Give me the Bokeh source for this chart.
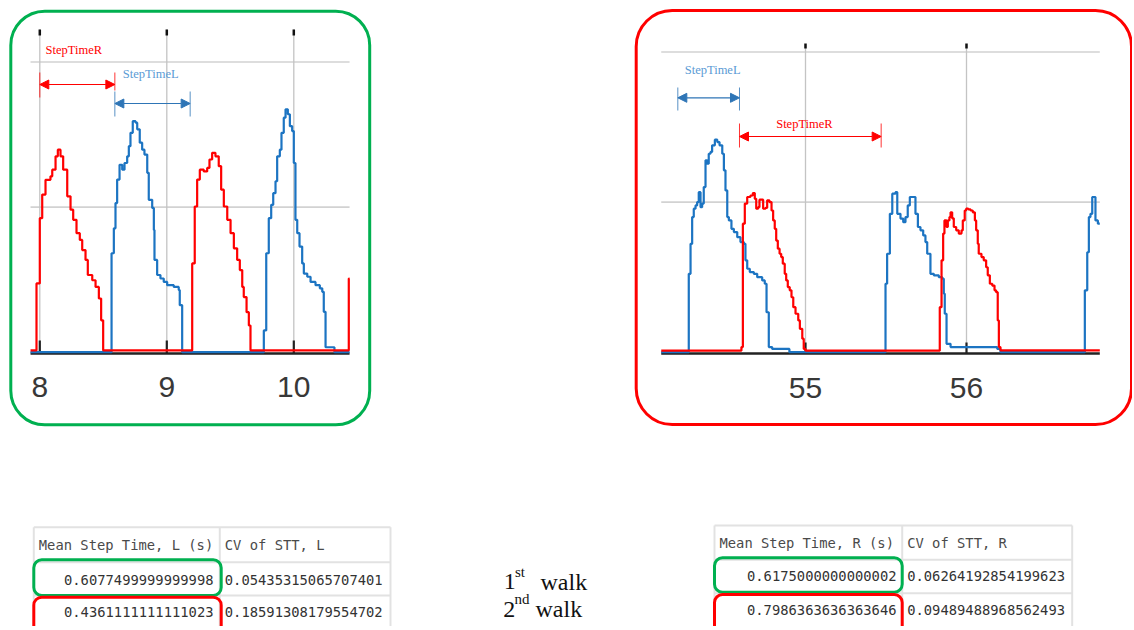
from bokeh.plotting import figure
from bokeh.models import Range1d, BoxAnnotation, Arrow, NormalHead
from bokeh.core.properties import value
from bokeh.embed import file_html
from bokeh.resources import INLINE

# ---------------- data ----------------
# Chart 1 (1st walk): time (s) and pressure-like signal (grid lines at 500 / 1000)
c1_ticks = [8, 9, 10]
c1_tick_labels = ["8", "9", "10"]
c1_t_range = [7.927, 10.439]
c1_red_t = [7.927, 7.974, 8.000, 8.019, 8.045, 8.084, 8.098, 8.124, 8.142, 8.163, 8.184, 8.216, 8.242, 8.263,
            8.289, 8.315, 8.334, 8.360, 8.378, 8.413, 8.439, 8.465, 8.483, 8.499, 9.200, 9.220, 9.239, 9.260,
            9.291, 9.318, 9.336, 9.357, 9.383, 9.409, 9.428, 9.449, 9.476, 9.502, 9.528, 9.554, 9.575, 9.594,
            9.606, 9.628, 9.646, 9.659, 10.433, 10.439]
c1_red_v = [6, 237, 462, 543, 594, 606, 629, 675, 698, 675, 629, 537, 491, 456,
            410, 387, 352, 318, 266, 248, 225, 185, 110, 6, 306, 502, 595, 629,
            623, 635, 664, 687, 675, 641, 560, 502, 456, 410, 358, 318, 283, 225,
            190, 138, 92, 6, 254, 254]
c1_blue_t = [7.927, 8.565, 8.583, 8.596, 8.609, 8.628, 8.649, 8.667, 8.688, 8.701, 8.714, 8.732, 8.754, 8.767,
             8.787, 8.806, 8.824, 8.846, 8.858, 8.885, 8.898, 8.903, 8.924, 8.950, 8.976, 9.003, 9.055, 9.094,
             9.102, 9.121, 9.764, 9.783, 9.803, 9.822, 9.838, 9.856, 9.869, 9.890, 9.903, 9.921, 9.935, 9.953,
             9.969, 9.987, 10.000, 10.013, 10.027, 10.045, 10.066, 10.079, 10.106, 10.132, 10.171, 10.205,
             10.224, 10.236, 10.250, 10.320, 10.439]
c1_blue_v = [0, 341, 427, 514, 595, 646, 629, 652, 675, 710, 756, 796, 791, 768,
             722, 698, 681, 618, 525, 497, 421, 318, 266, 254, 242, 231, 225, 214,
             162, 0, 75, 341, 462, 508, 548, 589, 675, 698, 756, 808, 837, 820,
             779, 762, 652, 456, 410, 364, 306, 271, 260, 242, 231, 220,
             208, 139, 17, 0, 0]
c1_stepR = [8.000, 8.591]
c1_stepL = [8.591, 9.184]

# Chart 2 (2nd walk)
c2_ticks = [55, 56]
c2_tick_labels = ["55", "56"]
c2_t_range = [54.104, 56.828]
c2_blue_t = [54.104, 54.275, 54.286, 54.296, 54.306, 54.317, 54.327, 54.337, 54.348, 54.358, 54.368, 54.379,
             54.389, 54.399, 54.410, 54.420, 54.437, 54.452, 54.466, 54.483, 54.493, 54.503, 54.514, 54.524,
             54.540, 54.555, 54.576, 54.596, 54.617, 54.627, 54.638, 54.654, 54.679, 54.700, 54.731, 54.747,
             54.758, 54.772, 54.793, 54.900, 55.497, 55.507, 55.524, 55.539, 55.559, 55.570, 55.590, 55.607,
             55.621, 55.635, 55.648, 55.669, 55.683, 55.698, 55.714, 55.731, 55.745, 55.756, 55.776, 55.797,
             55.828, 55.849, 55.859, 55.865, 55.876, 55.901, 56.191, 56.211, 56.735, 56.750, 56.760, 56.770,
             56.781, 56.795, 56.801, 56.816, 56.828]
c2_blue_v = [0, 261, 361, 450, 478, 489, 500, 533, 483, 495, 550, 639,
             628, 661, 667, 689, 708, 700, 689, 661, 606, 539, 450, 439,
             411, 400, 383, 367, 361, 306, 278, 267, 261, 250, 239, 228,
             133, 17, 11, 0, 228, 328, 461, 528, 533, 461, 445, 433,
             450, 489, 517, 517, 461, 417, 406, 389, 367, 328, 261, 256,
             250, 245, 195, 128, 28, 17, 11, 0, 206, 333, 450, 461,
             517, 517, 439, 428, 428]
c2_red_t = [54.104, 54.602, 54.611, 54.623, 54.638, 54.658, 54.673, 54.685, 54.694, 54.706, 54.714, 54.737,
            54.752, 54.762, 54.776, 54.789, 54.799, 54.809, 54.818, 54.828, 54.839, 54.849, 54.859, 54.871,
            54.880, 54.890, 54.902, 54.913, 54.924, 54.938, 54.955, 54.965, 54.980, 54.989, 55.000, 55.834,
            55.845, 55.855, 55.863, 55.876, 55.884, 55.894, 55.901, 55.911, 55.921, 55.936, 55.952, 55.969,
            55.977, 55.989, 55.998, 56.011, 56.025, 56.039, 56.052, 56.060, 56.070, 56.076, 56.093, 56.107,
            56.122, 56.132, 56.145, 56.160, 56.174, 56.184, 56.194, 56.201, 56.211, 56.828]
c2_red_v = [5, 17, 428, 495, 517, 522, 530, 511, 478, 483, 508, 478,
            481, 506, 500, 472, 439, 411, 372, 345, 328, 317, 295, 261,
            239, 217, 206, 183, 150, 128, 106, 78, 45, 11, 5, 150,
            306, 395, 439, 417, 439, 450, 466, 446, 417, 406, 395, 406,
            439, 472, 478, 476, 472, 466, 439, 406, 361, 328, 317, 306,
            283, 256, 228, 222, 206, 200, 106, 17, 6, 6]
c2_stepL = [54.207, 54.590]
c2_stepR = [54.590, 55.470]

grid_values = [500, 1000]

# Tables
tabL_header = ["Mean Step Time, L (s)", "CV of STT, L"]
tabL_mean = ["0.6077499999999998", "0.4361111111111023"]
tabL_cv = ["0.05435315065707401", "0.18591308179554702"]
tabR_header = ["Mean Step Time, R (s)", "CV of STT, R"]
tabR_mean = ["0.6175000000000002", "0.7986363636363646"]
tabR_cv = ["0.06264192854199623", "0.09489488968562493"]
walk_num = ["1", "2"]
walk_sup = ["st", "nd"]
walk_word = ["walk", "walk"]

# ---------------- layout ----------------
W, H = 1132, 626
OX, OY = 0, 0  # main coordinates are screenshot pixels

RED = "#ff0000"
BLUE = "#1c74c2"
ARROW_BLUE = "#2e75b6"
TEXT_BLUE = "#5b9bd5"
GREEN = "#00b050"
GRID = "#d2d2d2"

p = figure(width=W, height=H, x_range=Range1d(OX, OX + W), y_range=Range1d(OY + H, OY),
           output_backend="svg", toolbar_location=None, min_border=0,
           x_axis_location=None, y_axis_location=None, title=None)
p.grid.visible = False
p.outline_line_color = None
p.background_fill_color = "white"
p.border_fill_color = "white"

xr, yr = {}, {}


def chart_ranges(name, t_a, px_a, t_b, px_b, py0, py1000):
    kx = (t_b - t_a) / (px_b - px_a)
    xr[name + "x"] = Range1d(t_a + (OX - px_a) * kx, t_a + (OX + W - px_a) * kx)
    ky = 1000.0 / (py1000 - py0)
    yr[name + "y"] = Range1d((OY + H - py0) * ky, (OY - py0) * ky)


chart_ranges("c1", 8, 39.3, 10, 293.3, 351.7, 61.5)
chart_ranges("c2", 55, 805.0, 56, 966.0, 351.7, 51.5)
p.extra_x_ranges = xr
p.extra_y_ranges = yr


def draw_chart(name, trange, ticks, labels, red_t, red_v, blue_t, blue_v, top_px, top_tick, bot_tick, label_y):
    xn, yn = name + "x", name + "y"
    n = len(ticks)
    p.segment(x0=[trange[0]] * 2, x1=[trange[1]] * 2, y0=grid_values, y1=grid_values,
              x_range_name=xn, y_range_name=yn, line_color=GRID, line_width=1.6)
    p.segment(x0=ticks, x1=ticks, y0=[top_px] * n, y1=[352] * n, x_range_name=xn,
              line_color="#c4c4c4", line_width=1.3)
    p.segment(x0=ticks, x1=ticks, y0=[top_tick[0]] * n, y1=[top_tick[1]] * n, x_range_name=xn,
              line_color="#111111", line_width=2.5)
    p.segment(x0=[trange[0]], x1=[trange[1]], y0=[353], y1=[353], x_range_name=xn,
              line_color="#222222", line_width=2.5)
    p.segment(x0=ticks, x1=ticks, y0=[bot_tick] * n, y1=[353] * n, x_range_name=xn,
              line_color="#222222", line_width=2.2)
    p.step(blue_t, blue_v, mode="after", x_range_name=xn, y_range_name=yn,
           line_color=BLUE, line_width=2.2)
    p.step(red_t, red_v, mode="after", x_range_name=xn, y_range_name=yn,
           line_color=RED, line_width=2.2)
    p.text(x=ticks, y=[label_y] * n, text=labels, x_range_name=xn, text_align="center",
           text_baseline="middle", text_font=value("Liberation Sans"), text_font_size="30px",
           text_color="#383838")


draw_chart("c1", c1_t_range, c1_ticks, c1_tick_labels, c1_red_t, c1_red_v, c1_blue_t, c1_blue_v,
           29, (29, 35), 340, 386)
draw_chart("c2", c2_t_range, c2_ticks, c2_tick_labels, c2_red_t, c2_red_v, c2_blue_t, c2_blue_v,
           45, (43, 48), 342, 387)


def step_arrow(xn, span, y, bar0, bar1, color, text, text_x, text_y, text_color):
    p.add_layout(Arrow(x_start=span[0], y_start=y, x_end=span[1], y_end=y, x_range_name=xn,
                       line_color=color, line_width=1.2,
                       start=NormalHead(size=9, fill_color=color, line_color=color),
                       end=NormalHead(size=9, fill_color=color, line_color=color)))
    p.segment(x0=[span[0], span[1]], x1=[span[0], span[1]], y0=[bar0[0], bar1[0]], y1=[bar0[1], bar1[1]],
              x_range_name=xn, line_color=color, line_width=1, line_alpha=0.8)
    p.text(x=[text_x], y=[text_y], text=[text], x_range_name=xn, text_align="left",
           text_baseline="middle", text_font=value("Liberation Serif"), text_font_size="12.5px",
           text_color=text_color)


step_arrow("c1x", c1_stepR, 84, (72, 97), (72, 90), RED, "StepTimeR", 8.045, 49, RED)
step_arrow("c1x", c1_stepL, 103, (91, 116), (91, 116), ARROW_BLUE, "StepTimeL", 8.654, 73, TEXT_BLUE)
step_arrow("c2x", c2_stepL, 97.3, (87, 110), (87, 110), ARROW_BLUE, "StepTimeL", 54.250, 69, TEXT_BLUE)
step_arrow("c2x", c2_stepR, 136, (123, 147), (123, 147), RED, "StepTimeR", 54.818, 123.5, RED)

# rounded frames around the two charts
p.add_layout(BoxAnnotation(left=10.3, right=369.2, top=10.7, bottom=424.3, fill_color=None, fill_alpha=0,
                           line_color=GREEN, line_alpha=1.0, line_width=3, border_radius=34))
p.add_layout(BoxAnnotation(left=635.7, right=1131.0, top=10.0, bottom=424.0, fill_color=None, fill_alpha=0,
                           line_color=RED, line_alpha=1.0, line_width=3, border_radius=36))


def draw_table(x_left, x_mid, x_right, row_lines, text_ys, header, means, cvs, mean_right, green_box, red_box):
    nl = len(row_lines)
    p.segment(x0=[x_left] * nl, x1=[x_right] * nl, y0=row_lines, y1=row_lines,
              line_color="#e2e2e2", line_width=2)
    p.segment(x0=[x_left, x_mid, x_right], x1=[x_left, x_mid, x_right], y0=[row_lines[0]] * 3,
              y1=[OY + H + 10] * 3, line_color="#e2e2e2", line_width=2)
    mono = value("DejaVu Sans Mono")
    p.text(x=[x_left + 5, x_mid + 5], y=[text_ys[0]] * 2, text=header, text_align="left",
           text_baseline="middle", text_font=mono, text_font_size="13.8px", text_color="#4a4a4a")
    p.text(x=[mean_right] * len(means), y=text_ys[1:], text=means, text_align="right",
           text_baseline="middle", text_font=mono, text_font_size="13.8px", text_color="#333333")
    p.text(x=[x_mid + 5] * len(cvs), y=text_ys[1:], text=cvs, text_align="left",
           text_baseline="middle", text_font=mono, text_font_size="13.8px", text_color="#333333")
    p.add_layout(BoxAnnotation(left=green_box[0], right=green_box[1], top=green_box[2], bottom=green_box[3],
                               fill_color=None, fill_alpha=0, line_color=GREEN, line_alpha=1.0,
                               line_width=3, border_radius=8))
    p.add_layout(BoxAnnotation(left=red_box[0], right=red_box[1], top=red_box[2], bottom=red_box[3],
                               fill_color=None, fill_alpha=0, line_color=RED, line_alpha=1.0,
                               line_width=3, border_radius=8))


draw_table(33.3, 219.3, 390.0, [526.7, 561.7, 595.0], [544.0, 579.3, 611.7], tabL_header, tabL_mean, tabL_cv,
           213.0, (33.3, 220.7, 559.3, 595.0), (33.3, 220.7, 596.7, 640.0))
draw_table(714.0, 901.7, 1071.7, [525.0, 559.3, 592.7], [542.7, 575.8, 609.0], tabR_header, tabR_mean, tabR_cv,
           896.0, (714.0, 901.7, 557.3, 591.7), (714.0, 901.7, 594.0, 640.0))

# 1st / 2nd walk labels
serif = value("Liberation Serif")
p.text(x=[503.3, 502.7], y=[581, 608.5], text=walk_num, text_align="left", text_baseline="alphabetic",
       text_font=serif, text_font_size="24px", text_color="#111111")
p.text(x=[514.5, 514.0], y=[571, 598.5], text=walk_sup, text_align="left", text_baseline="alphabetic",
       text_font=serif, text_font_size="15px", text_color="#111111")
p.text(x=[540.0, 535.0], y=[581, 608.5], text=walk_word, text_align="left", text_baseline="alphabetic",
       text_font=serif, text_font_size="24px", text_color="#111111")

open("out.html", "w").write(file_html(p, INLINE))
